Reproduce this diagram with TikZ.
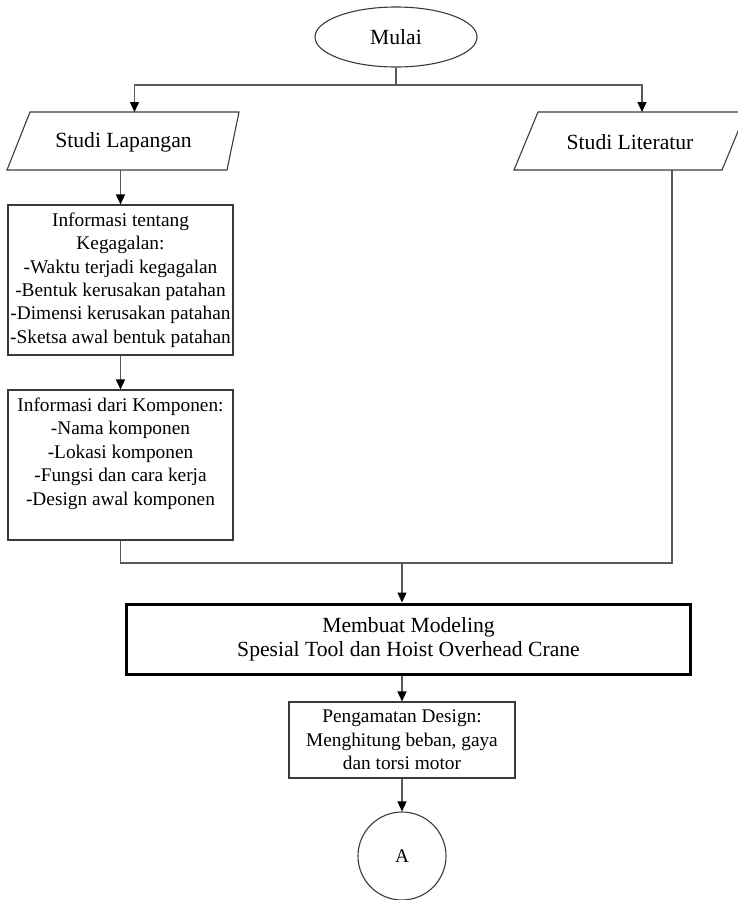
\documentclass[tikz,border=0pt]{standalone}
\usepackage{fontspec}
\setmainfont{Liberation Serif}
\usetikzlibrary{shapes.geometric,arrows.meta}
\definecolor{lineg}{HTML}{5A5A5A}
\definecolor{boxg}{HTML}{3A3A3A}
\tikzset{
  conn/.style={draw=lineg, line width=1.4bp},
  arr/.style={conn, -{Triangle[length=10bp,width=9bp,color=black,fill=black]}},
  infobox/.style={draw=boxg, line width=1.1bp, inner sep=0pt, align=center,
     font=\fontsize{19.4}{23.5}\selectfont},
  bigfont/.style={font=\fontsize{21.7}{24}\selectfont},
  para/.style={draw=boxg, line width=1.1bp}
}
\begin{document}
\begin{tikzpicture}[x=1bp,y=-1bp]
\useasboundingbox (0,0) rectangle (738,900);

% start
\node[ellipse, draw=boxg, line width=1.1bp, minimum width=162bp, minimum height=60bp, inner sep=0pt, bigfont] (mulai) at (396,37) {Mulai};
\coordinate (split) at (396,85);

% Studi Lapangan parallelogram
\draw[para] (7,170) -- (227,170) -- (239,112) -- (30,112) -- cycle;
\node[bigfont] (sl) at (123.5,142) {Studi Lapangan};
\coordinate (slTop) at (134.5,112);
\coordinate (slBot) at (120.5,170);

% Studi Literatur parallelogram
\draw[para] (514,170) -- (722,170) -- (746,112) -- (538,112) -- cycle;
\node[bigfont] (slt) at (630,142) {Studi Literatur};
\coordinate (sltTop) at (642,112);
\coordinate (sltBot) at (672,170);

% info boxes
\node[infobox, minimum width=225bp, minimum height=150bp] (k1) at (120.5,280)
 {Informasi tentang\\Kegagalan:\\-Waktu terjadi kegagalan\\-Bentuk kerusakan patahan\\-Dimensi kerusakan patahan\\-Sketsa awal bentuk patahan};

\node[infobox] (k2) at (120.5,465)
 {\parbox[c][150bp][c]{225bp}{\centering Informasi dari Komponen:\\-Nama komponen\\-Lokasi komponen\\-Fungsi dan cara kerja\\-Design awal komponen\par\vspace*{23bp}}};

\coordinate (jr) at (672,563);
\coordinate (jm) at (402,563);

% modeling box
\node[draw=black, line width=3bp, minimum width=563bp, minimum height=70bp, align=center, inner sep=0pt, bigfont] (mm) at (408.5,639)
 {Membuat Modeling\\Spesial Tool dan Hoist Overhead Crane};

% pengamatan
\node[infobox, minimum width=226bp, minimum height=76bp] (pg) at (402,740)
 {Pengamatan Design:\\Menghitung beban, gaya\\dan torsi motor};

% connector A
\node[circle, draw=boxg, line width=1.1bp, minimum size=88bp, inner sep=0pt, font=\fontsize{19.4}{23.5}\selectfont] (A) at (402,856) {A};

% connectors
\draw[conn] (mulai.south) -- (split);
\draw[arr] (split) -| (slTop);
\draw[arr] (split) -| (sltTop);
\draw[arr] (slBot) -- (k1.north);
\draw[arr] (k1.south) -- (k2.north);
\draw[conn] (k2.south) |- (jr) -- (sltBot);
\draw[arr] (jm) -- (jm |- mm.north);
\draw[arr] (pg.north |- mm.south) -- (pg.north);
\draw[arr] (pg.south) -- (A.north);
\end{tikzpicture}
\end{document}
